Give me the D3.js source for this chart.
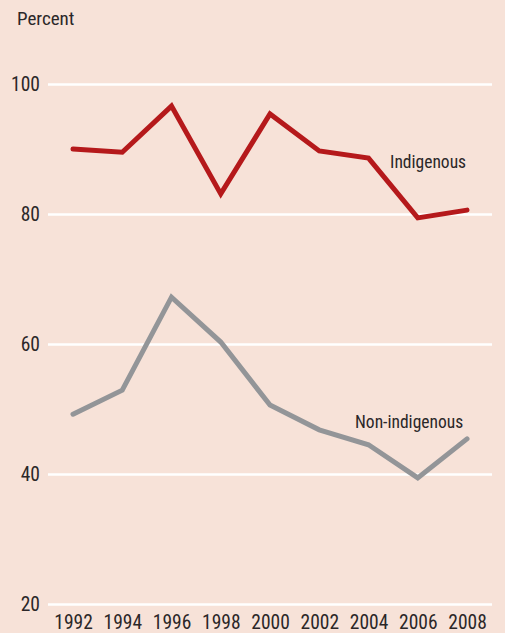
<!DOCTYPE html>
<html><head><meta charset="utf-8">
<script src="https://cdn.jsdelivr.net/npm/d3@7"></script>
<style>
html,body{margin:0;padding:0;background:#f7e2d8;}
svg{display:block;}
text{font-family:"Liberation Sans Narrow","Roboto Condensed","Liberation Sans",Arial,sans-serif;fill:#2b2728;}
</style></head><body>
<svg id="c" width="505" height="633"></svg>
<script>
const years = [1992,1994,1996,1998,2000,2002,2004,2006,2008];
const indigenous = [90.0,89.5,96.6,83.1,95.4,89.7,88.6,79.4,80.6];
const nonIndigenous = [49.2,52.9,67.2,60.3,50.6,46.8,44.5,39.4,45.4];
const yTicks = [20,40,60,80,100];

const svg = d3.select("#c");
svg.append("rect").attr("width",505).attr("height",633).attr("fill","#f7e2d8");
const x = d3.scaleLinear().domain([1992,2008]).range([73,467]);
const y = d3.scaleLinear().domain([20,100]).range([604,84]);

const yAxis = d3.axisLeft(y).tickValues(yTicks).tickSize(0).tickFormat(d3.format("d"));
const gy = svg.append("g").attr("transform","translate(48,0)").call(yAxis);
gy.select(".domain").remove();
gy.selectAll(".tick line").attr("x1",0).attr("x2",444).attr("stroke","#ffffff").attr("stroke-width",2.5);
gy.selectAll(".tick text").attr("x",-8).attr("font-size",19.5).attr("text-anchor","end").attr("dy","0.35em");

const xAxis = d3.axisBottom(x).tickValues(years).tickSize(0).tickPadding(0).tickFormat(d3.format("d"));
const gx = svg.append("g").attr("transform","translate(0,629)").call(xAxis);
gx.select(".domain").remove();
gx.selectAll(".tick text").attr("font-size",19.5).attr("dy",0).attr("y",0);

svg.append("text").attr("x",17).attr("y",25).attr("font-size",19).text("Percent");

const line = d3.line().x((d,i)=>x(years[i])).y(d=>y(d));
svg.append("path").datum(nonIndigenous).attr("d",line).attr("fill","none")
  .attr("stroke","#939598").attr("stroke-width",5).attr("stroke-linejoin","miter").attr("stroke-linecap","round");
svg.append("path").datum(indigenous).attr("d",line).attr("fill","none")
  .attr("stroke","#b5191b").attr("stroke-width",5).attr("stroke-linejoin","miter").attr("stroke-linecap","round");

svg.append("text").attr("x",390).attr("y",168).attr("font-size",17.5).text("Indigenous");
svg.append("text").attr("x",355).attr("y",428).attr("font-size",17.5).text("Non-indigenous");
</script>
</body></html>
